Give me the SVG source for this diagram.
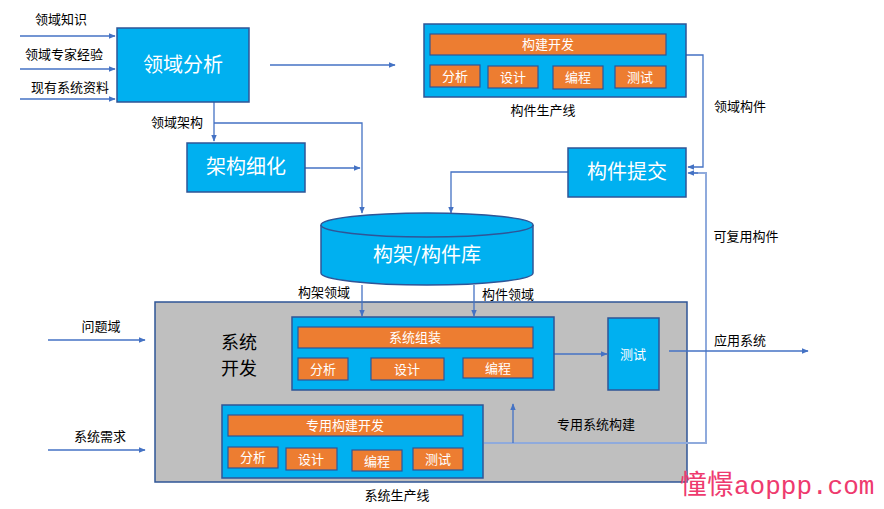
<svg xmlns="http://www.w3.org/2000/svg" width="884" height="509" viewBox="0 0 884 509">
<defs>
<style>
.blue{fill:#00b0f0;stroke:#2f5597;stroke-width:1.5}
.org{fill:#ed7d31;stroke:#2f5597;stroke-width:1.2}
.gray{fill:#bfbfbf;stroke:#2f5597;stroke-width:1.5}
.big{font-family:"Noto Sans CJK SC",sans-serif;font-size:20px;fill:#fff;text-anchor:middle}
.sm{font-family:"Noto Sans CJK SC",sans-serif;font-size:13px;fill:#fff;text-anchor:middle}
.lbl{font-family:"Noto Sans CJK SC",sans-serif;font-size:13px;fill:#000;text-anchor:middle}
.con{fill:none;stroke:#4472c4;stroke-width:1.3}
.lt{fill:none;stroke:#8faadc;stroke-width:2}
</style>
<marker id="a" viewBox="0 0 10 10" refX="9" refY="5" markerWidth="7" markerHeight="7" orient="auto" markerUnits="userSpaceOnUse"><path d="M0,1 L10,5 L0,9 z" fill="#4472c4"/></marker>
</defs>
<rect width="884" height="509" fill="#fff"/>

<g id="sysdev">
<rect class="gray" x="155" y="302" width="532" height="180"/>
<text x="239" y="349" font-family="Noto Sans CJK SC,sans-serif" font-size="18" text-anchor="middle">系统</text>
<text x="239" y="375" font-family="Noto Sans CJK SC,sans-serif" font-size="18" text-anchor="middle">开发</text>
</g>

<g id="connectors">
<path class="con" d="M20,36 H115" marker-end="url(#a)"/>
<path class="con" d="M20,69 H115" marker-end="url(#a)"/>
<path class="con" d="M20,99 H115" marker-end="url(#a)"/>
<path class="con" d="M270,65 H395" marker-end="url(#a)"/>
<path class="con" d="M214,102 V141" marker-end="url(#a)"/>
<path class="con" d="M214,123 H362 V213" marker-end="url(#a)"/>
<path class="con" d="M305,168 H360" marker-end="url(#a)"/>
<path class="con" d="M568,172 H451 V213" marker-end="url(#a)"/>
<path class="con" d="M686,55 H703 V167 H688" marker-end="url(#a)"/>
<path class="lt" d="M484,443 H706 V173 H690"/>
<path class="con" d="M698,173 H688" marker-end="url(#a)"/>
<path class="con" d="M513,443 V404" marker-end="url(#a)"/>
<path class="con" d="M362,285 V316" marker-end="url(#a)"/>
<path class="con" d="M474,285 V316" marker-end="url(#a)"/>
<path class="con" d="M554,354 H607" marker-end="url(#a)"/>
<path class="con" d="M669,351 H808" marker-end="url(#a)"/>
<path class="con" d="M48,340 H145" marker-end="url(#a)"/>
<path class="con" d="M48,450 H145" marker-end="url(#a)"/>
</g>

<g id="labels">
<text class="lbl" x="61" y="24">领域知识</text>
<text class="lbl" x="64" y="59">领域专家经验</text>
<text class="lbl" x="70" y="92">现有系统资料</text>
<text class="lbl" x="177" y="127">领域架构</text>
<text class="lbl" x="543" y="115">构件生产线</text>
<text class="lbl" x="740" y="111">领域构件</text>
<text class="lbl" x="746" y="241">可复用构件</text>
<text class="lbl" x="324" y="297">构架领域</text>
<text class="lbl" x="508" y="299">构件领域</text>
<text class="lbl" x="101" y="331">问题域</text>
<text class="lbl" x="100" y="441">系统需求</text>
<text class="lbl" x="740" y="345">应用系统</text>
<text class="lbl" x="596" y="429">专用系统构建</text>
<text class="lbl" x="397" y="500">系统生产线</text>
</g>

<g id="domain-analysis">
<rect class="blue" x="117" y="28" width="132" height="74"/>
<text class="big" x="183" y="72">领域分析</text>
</g>

<g id="arch-refine">
<rect class="blue" x="187" y="143" width="118" height="49"/>
<text class="big" x="246" y="174">架构细化</text>
</g>

<g id="comp-submit">
<rect class="blue" x="568" y="148" width="118" height="49"/>
<text class="big" x="627" y="179">构件提交</text>
</g>

<g id="repository">
<path class="blue" d="M321,225 V273 A106,12 0 0 0 533,273 V225"/>
<ellipse class="blue" cx="427" cy="225" rx="106" ry="12"/>
<text class="big" x="427" y="262">构架/构件库</text>
</g>

<g id="comp-line">
<rect class="blue" x="424" y="24" width="262" height="73"/>
<rect class="org" x="430" y="34" width="236" height="21"/>
<text class="sm" x="548" y="49">构建开发</text>
<rect class="org" x="430" y="65" width="50" height="22"/><text class="sm" x="455" y="81">分析</text>
<rect class="org" x="488" y="66" width="50" height="22"/><text class="sm" x="513" y="82">设计</text>
<rect class="org" x="553" y="66" width="50" height="23"/><text class="sm" x="578" y="82">编程</text>
<rect class="org" x="615" y="66" width="51" height="22"/><text class="sm" x="640" y="82">测试</text>
</g>

<g id="sys-assembly">
<rect class="blue" x="292" y="317" width="262" height="73"/>
<rect class="org" x="298" y="327" width="235" height="21"/>
<text class="sm" x="415" y="342">系统组装</text>
<rect class="org" x="298" y="358" width="50" height="22"/><text class="sm" x="323" y="374">分析</text>
<rect class="org" x="371" y="358" width="73" height="22"/><text class="sm" x="407" y="374">设计</text>
<rect class="org" x="463" y="358" width="70" height="20"/><text class="sm" x="498" y="373">编程</text>
</g>

<g id="sys-test">
<rect class="blue" x="608" y="318" width="51" height="72"/>
<text class="sm" x="633" y="359">测试</text>
</g>

<g id="special-dev">
<rect class="blue" x="222" y="405" width="261" height="73"/>
<rect class="org" x="228" y="415" width="235" height="21"/>
<text class="sm" x="345" y="430">专用构建开发</text>
<rect class="org" x="228" y="447" width="50" height="21"/><text class="sm" x="253" y="462">分析</text>
<rect class="org" x="286" y="448" width="51" height="22"/><text class="sm" x="311" y="464">设计</text>
<rect class="org" x="352" y="450" width="50" height="21"/><text class="sm" x="377" y="466">编程</text>
<rect class="org" x="413" y="448" width="50" height="22"/><text class="sm" x="438" y="464">测试</text>
</g>

<text x="680" y="494" font-family="Noto Sans CJK SC,sans-serif" font-size="27" fill="#ee3a6e">憧憬<tspan font-family="Liberation Mono,monospace" font-size="26">aoppp.com</tspan></text>
</svg>
